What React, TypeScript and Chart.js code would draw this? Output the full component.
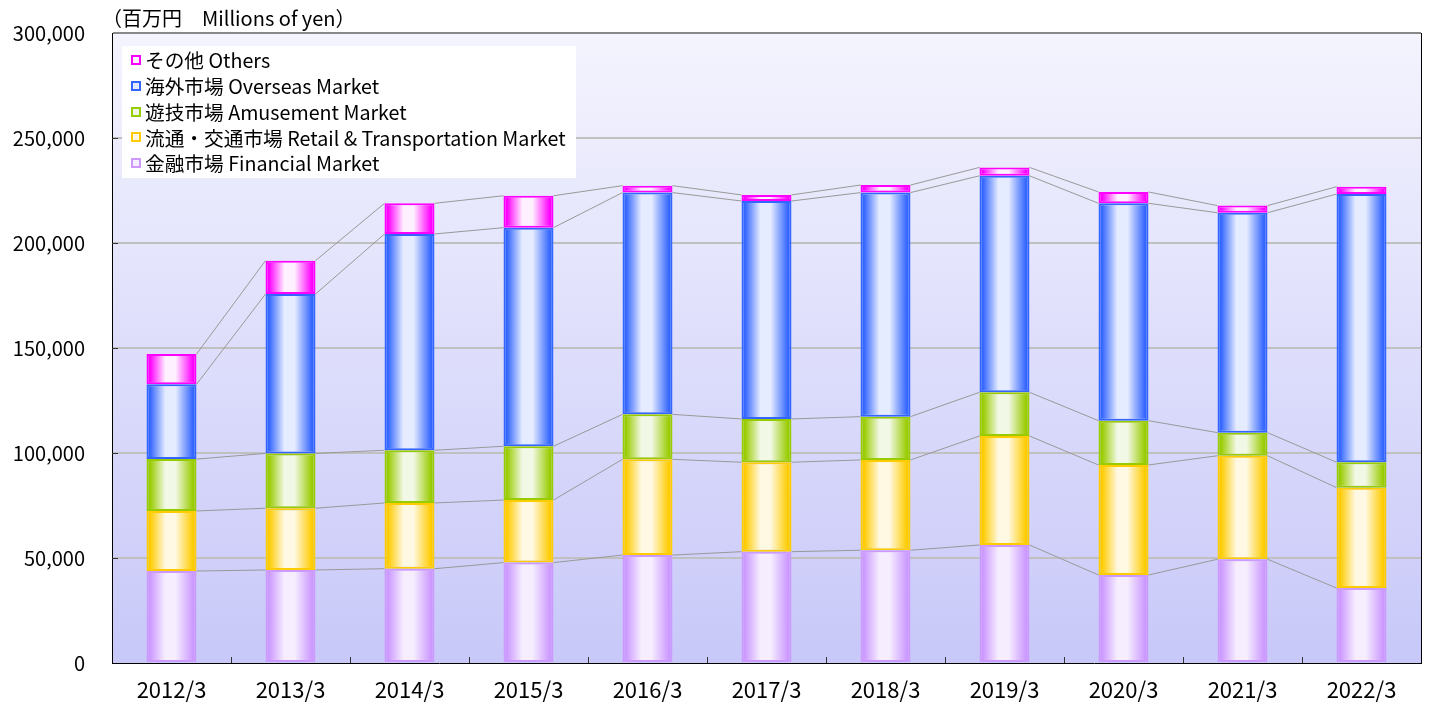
import React, { useEffect, useRef } from 'react';
import { Chart, registerables } from 'chart.js';

Chart.register(...registerables);

const categories = ['2012/3', '2013/3', '2014/3', '2015/3', '2016/3', '2017/3', '2018/3', '2019/3', '2020/3', '2021/3', '2022/3'];

const financial = [43800, 44300, 44900, 47800, 51400, 53000, 53700, 56200, 41900, 49400, 35700];
const retail = [28600, 29400, 31300, 29800, 45600, 42600, 43000, 51900, 52400, 49300, 47800];
const amusement = [24700, 26100, 25100, 25600, 21400, 20600, 20600, 20800, 21100, 11000, 12100];
const overseas = [35600, 75900, 103000, 104100, 105600, 103800, 106700, 103100, 103500, 104700, 127700];
const others = [14400, 15900, 14600, 15200, 3300, 2900, 3600, 4000, 5400, 3400, 3500];

const seriesNames = ['金融市場 Financial Market', '流通・交通市場 Retail & Transportation Market', '遊技市場 Amusement Market', '海外市場 Overseas Market', 'その他 Others'];
const seriesBase = ['#cc99ff', '#ffcc00', '#99cc00', '#3366ff', '#ff00ff'];
const seriesLight = ['#f6eeff', '#fff8e2', '#f2f8e6', '#e6ecff', '#fff0ff'];

const yTicks = [0, 50000, 100000, 150000, 200000, 250000, 300000];
const unitLabel = '（百万円　Millions of yen）';

const BAR_PCT = 0.42;
const FONT_TXT = '"Noto Sans CJK JP", "Liberation Sans", sans-serif';

function makeGradient(ctx: any, base: string, light: string) {
  const chart = ctx.chart;
  const xs = chart.scales && chart.scales.x;
  if (!xs || ctx.dataIndex == null || !xs.width) return base;
  const cx = xs.getPixelForValue(ctx.dataIndex);
  const w = (xs.width / categories.length) * BAR_PCT;
  const g = chart.ctx.createLinearGradient(cx - w / 2, 0, cx + w / 2, 0);
  g.addColorStop(0, base);
  g.addColorStop(0.07, base);
  g.addColorStop(0.38, light);
  g.addColorStop(0.58, light);
  g.addColorStop(0.93, base);
  g.addColorStop(1, base);
  return g;
}

const decorPlugin = {
  id: 'decor',
  beforeDraw(chart: any) {
    const { ctx, chartArea: a } = chart;
    ctx.save();
    const g = ctx.createLinearGradient(0, a.top, 0, a.bottom);
    g.addColorStop(0, '#f4f4fe');
    g.addColorStop(1, '#c8c8f9');
    ctx.fillStyle = g;
    ctx.fillRect(a.left, a.top, a.right - a.left, a.bottom - a.top);
    ctx.restore();
  },
  afterDatasetsDraw(chart: any) {
    const { ctx } = chart;
    ctx.save();
    ctx.strokeStyle = '#999999';
    ctx.lineWidth = 1;
    chart.data.datasets.forEach((_: any, di: number) => {
      const els = chart.getDatasetMeta(di).data;
      for (let j = 0; j < els.length - 1; j++) {
        const a = els[j];
        const b = els[j + 1];
        ctx.beginPath();
        ctx.moveTo(a.x + a.width / 2, a.y);
        ctx.lineTo(b.x - b.width / 2, b.y);
        ctx.stroke();
      }
    });
    ctx.restore();
  },
  afterDraw(chart: any) {
    const { ctx, chartArea: a } = chart;
    const ys = chart.scales.y;
    ctx.save();
    // right border
    ctx.strokeStyle = '#000000';
    ctx.lineWidth = 1;
    ctx.beginPath();
    ctx.moveTo(a.right + 0.5, a.top);
    ctx.lineTo(a.right + 0.5, a.bottom + 1);
    ctx.stroke();
    // x tick marks (inside)
    const catW = (a.right - a.left) / categories.length;
    ctx.strokeStyle = '#333333';
    for (let i = 1; i < categories.length; i++) {
      const x = Math.round(a.left + i * catW) + 0.5;
      ctx.beginPath();
      ctx.moveTo(x, a.bottom);
      ctx.lineTo(x, a.bottom - 6);
      ctx.stroke();
    }
    // y tick marks (inside)
    yTicks.slice(1, -1).forEach((v) => {
      const y = Math.round(ys.getPixelForValue(v)) + 0.5;
      ctx.beginPath();
      ctx.moveTo(a.left, y);
      ctx.lineTo(a.left + 6, y);
      ctx.stroke();
    });
    // unit label
    ctx.fillStyle = '#000000';
    ctx.font = '20px ' + FONT_TXT;
    ctx.textBaseline = 'middle';
    ctx.textAlign = 'left';
    ctx.fillText(unitLabel, 102, 18);
    // legend box
    ctx.fillStyle = '#ffffff';
    ctx.fillRect(122, 46, 454, 132);
    ctx.font = '19.7px ' + FONT_TXT;
    for (let k = 0; k < seriesNames.length; k++) {
      const idx = seriesNames.length - 1 - k;
      const cy = 60 + k * 25.75;
      ctx.fillStyle = seriesBase[idx];
      ctx.fillRect(131, Math.round(cy) - 5, 10, 10);
      ctx.fillStyle = seriesLight[idx];
      ctx.fillRect(133, Math.round(cy) - 3, 6, 6);
      ctx.fillStyle = '#000000';
      ctx.fillText(seriesNames[idx], 145, cy + 1);
    }
    ctx.restore();
  },
};

export default function App() {
  const ref = useRef<HTMLCanvasElement>(null);
  useEffect(() => {
    if (!ref.current) return;
    const values = [financial, retail, amusement, overseas, others];
    const chart = new Chart(ref.current, {
      type: 'bar',
      data: {
        labels: categories,
        datasets: values.map((arr, i) => ({
          label: seriesNames[i],
          data: arr,
          backgroundColor: (c: any) => makeGradient(c, seriesBase[i], seriesLight[i]),
          borderColor: seriesBase[i],
          borderWidth: 2,
          borderSkipped: false,
          barPercentage: BAR_PCT,
          categoryPercentage: 1,
        })),
      },
      options: {
        responsive: false,
        animation: false,
        layout: { padding: { left: 0, top: 33, right: 24, bottom: 0 } },
        plugins: { legend: { display: false }, tooltip: { enabled: false }, title: { display: false } },
        scales: {
          x: {
            stacked: true,
            grid: { display: false, drawTicks: false },
            border: { display: true, color: '#000000', width: 1 },
            ticks: { color: '#000000', padding: 13, font: { family: FONT_TXT, size: 22 }, maxRotation: 0 },
            afterFit: (s: any) => { s.height = 39; s.paddingLeft = 0; s.paddingRight = 0; },
          },
          y: {
            stacked: true,
            min: 0,
            max: 300000,
            grid: {
              drawTicks: false,
              lineWidth: 2,
              color: (c: any) => (c.tick && c.tick.value === 300000 ? '#888888' : c.tick && c.tick.value === 0 ? 'rgba(0,0,0,0)' : '#c0c0c0'),
            },
            border: { display: true, color: '#000000', width: 1 },
            afterBuildTicks: (s: any) => { s.ticks = yTicks.map((v) => ({ value: v })); },
            ticks: {
              color: '#000000',
              padding: 27,
              font: { family: FONT_TXT, size: 20 },
              callback: (v: any) => Number(v).toLocaleString('en-US'),
            },
            afterFit: (s: any) => { s.width = 112; s.paddingTop = 0; s.paddingBottom = 0; },
          },
        },
      },
      plugins: [decorPlugin],
    });
    return () => chart.destroy();
  }, []);
  return (
    <div style={{ position: 'absolute', left: 0, top: 0, width: 1445, height: 702, background: '#ffffff' }}>
      <canvas ref={ref} width={1445} height={702} style={{ display: 'block', width: 1445, height: 702 }} />
    </div>
  );
}
